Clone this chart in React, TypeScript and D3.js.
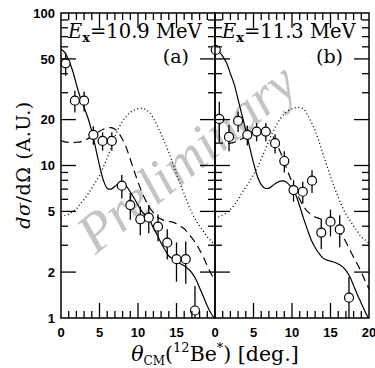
import React from "react";
import * as d3 from "d3";

// Angular grid (deg) on which the reaction-model curves are tabulated
const thetaGrid = [
  0, 0.5, 1, 1.5, 2, 2.5, 3, 3.5, 4, 4.5, 5, 5.5, 6, 6.5, 7, 7.5, 8, 8.5, 9, 9.5,
  10, 10.5, 11, 11.5, 12, 12.5, 13, 13.5, 14, 14.5, 15, 15.5, 16, 16.5, 17, 17.5,
  18, 18.5, 19, 19.5, 20,
];

// Panel (a): Ex = 10.9 MeV
const solidA = [
  58, 55, 49, 42, 34, 28, 24, 20.5, 16.8, 13, 10, 8.0, 7.1, 7.0, 7.3, 7.6, 7.6, 7.3, 6.7, 6.1,
  5.5, 5.0, 4.7, 4.4, 3.9, 3.5, 3.1, 2.8, 2.55, 2.45, 2.35, 2.27, 2.2, 2.1, 1.98, 1.8,
  1.58, 1.38, 1.2, 1.07, 0.98,
];
const dashedA = [
  14.5, 14.3, 14.2, 14.1, 14.2, 14.3, 14.6, 15.0, 15.5, 16.1, 16.8, 17.3, 17.6, 17.7, 17.3, 16.3,
  14.8, 13.0, 11.0, 9.2, 7.8, 6.7, 5.9, 5.3, 4.9, 4.6, 4.45, 4.35, 4.3, 4.25, 4.15, 4.0,
  3.85, 3.6, 3.35, 3.1, 2.8, 2.5, 2.2, 1.95, 1.75,
];
const dottedA = [
  4.6, 4.7, 4.8, 5.0, 5.2, 5.6, 6.0, 6.5, 7.1, 7.8, 8.6, 9.8, 11.2, 13.2, 15.5, 17.6, 19.5,
  21.0, 22.3, 23.1, 23.6, 23.7, 23.3, 22.2, 20.4, 18.2, 16.0, 14.0, 12.2, 10.4, 8.8, 7.5,
  6.5, 5.6, 4.9, 4.4, 4.0, 3.7, 3.4, 3.2, 3.0,
];
const angleA = [0.6, 1.8, 3.0, 4.2, 5.4, 6.6, 7.9, 9.0, 10.3, 11.4, 12.6, 13.8, 15.0, 16.2, 17.4];
const crossA = [46.8, 26.6, 26.6, 15.9, 14.5, 14.5, 7.37, 5.5, 4.44, 4.55, 3.97, 3.12, 2.43, 2.43, 1.12];
const errA = [8, 4.3, 4, 2.2, 2, 2, 1.3, 1.1, 0.95, 0.95, 0.8, 0.7, 0.7, 0.75, 0.5];

// Panel (b): Ex = 11.3 MeV
const solidB = [
  57, 56, 52, 47, 40, 34, 27, 21.5, 17, 13.2, 10.4, 8.5, 7.5, 7.1, 7.1, 7.4, 7.7, 7.9, 7.9, 7.6,
  7.1, 6.4, 5.4, 4.5, 3.8, 3.25, 2.9, 2.65, 2.48, 2.4, 2.36, 2.32, 2.26, 2.18, 2.05, 1.87,
  1.63, 1.42, 1.25, 1.1, 0.98,
];
const dashedB = [
  14, 14, 14, 14, 14, 14.2, 14.5, 15, 15.5, 16.2, 16.8, 17.2, 17.4, 17.4, 16.8, 15.6, 13.9,
  12.2, 10.5, 9.0, 7.8, 6.8, 6.0, 5.4, 5.0, 4.75, 4.6, 4.5, 4.4, 4.3, 4.2, 4.0, 3.8, 3.5,
  3.15, 2.8, 2.5, 2.25, 2.0, 1.75, 1.55,
];
const dottedB = [
  4.5, 4.6, 4.75, 4.9, 5.15, 5.5, 6.0, 6.6, 7.2, 7.9, 8.7, 9.7, 11.0, 12.6, 14.5, 16.5, 18.5,
  20.3, 21.8, 22.9, 23.5, 24.0, 24.0, 23.5, 21.5, 19.3, 17.0, 14.4, 12.0, 10.1, 8.5, 7.2,
  6.2, 5.4, 4.8, 4.4, 4.0, 3.7, 3.4, 3.25, 3.1,
];
const angleB = [0.1, 0.56, 1.82, 3.0, 4.2, 5.4, 6.6, 7.8, 9.0, 10.2, 11.4, 12.6, 13.8, 15.0, 16.2, 17.4];
const crossB = [57.2, 20.2, 15.4, 19.6, 15.9, 16.7, 16.7, 14.0, 10.7, 6.9, 6.73, 7.95, 3.63, 4.28, 3.81, 1.36];
const errB = [1.5, 6, 3, 3, 2.4, 2.3, 2.3, 2, 1.7, 1.1, 1.1, 1.35, 0.8, 0.85, 0.9, 0.5];

const yTickLabels = [1, 2, 5, 10, 20, 50, 100];
const xTickLabelsA = [0, 5, 10, 15];
const xTickLabelsB = [0, 5, 10, 15, 20];

const W = 375;
const H = 368;
const TOP = 13;
const BOTTOM = 318;
const SERIF = "'DejaVu Serif', serif";
const SANS = "'Liberation Sans', Arial, sans-serif";

type PanelProps = {
  id: string;
  x0: number;
  x1: number;
  solid: number[];
  dashed: number[];
  dotted: number[];
  angle: number[];
  cross: number[];
  err: number[];
  energy: string;
  tag: string;
  xLabels: number[];
};

const yScale = d3.scaleLog().domain([1, 100]).range([BOTTOM, TOP]);

function Panel(p: PanelProps) {
  const x = d3.scaleLinear().domain([0, 20]).range([p.x0, p.x1]);
  const line = d3
    .line<number>()
    .x((_, i) => x(thetaGrid[i]))
    .y((d) => yScale(d))
    .curve(d3.curveCatmullRom);
  const xMinor = d3.range(1, 20);
  const yMinor = yScale.ticks().filter((v) => v > 1 && v < 100);
  const isMajorY = (v: number) => yTickLabels.includes(v);
  const sw = 1.3;
  return (
    <g>
      <defs>
        <clipPath id={`clip-${p.id}`}>
          <rect x={p.x0} y={TOP} width={p.x1 - p.x0} height={BOTTOM - TOP} />
        </clipPath>
      </defs>
      <g clipPath={`url(#clip-${p.id})`} fill="none" stroke="#000">
        <path d={line(p.dotted) || ""} strokeWidth={1.3} strokeDasharray="1 2.6" />
        <path d={line(p.dashed) || ""} strokeWidth={1.2} strokeDasharray="8 5" />
        <path d={line(p.solid) || ""} strokeWidth={1.2} />
        {p.angle.map((a, i) => (
          <line
            key={i}
            x1={x(a)}
            x2={x(a)}
            y1={yScale(p.cross[i] + p.err[i])}
            y2={yScale(Math.max(p.cross[i] - p.err[i], 0.5))}
            strokeWidth={1.3}
          />
        ))}
      </g>
      {p.angle.map((a, i) => (
        <circle key={i} cx={x(a)} cy={yScale(p.cross[i])} r={4.5} fill="#fff" stroke="#000" strokeWidth={1.2} />
      ))}
      <g stroke="#000" strokeWidth={sw}>
        {xMinor.map((v) => {
          const len = v % 5 === 0 ? 15 : 7;
          return (
            <g key={v}>
              <line x1={x(v)} x2={x(v)} y1={BOTTOM} y2={BOTTOM - len} />
              <line x1={x(v)} x2={x(v)} y1={TOP} y2={TOP + len} />
            </g>
          );
        })}
        {yMinor.map((v) => {
          const len = isMajorY(v) ? 15 : 7;
          return (
            <g key={v}>
              <line x1={p.x0} x2={p.x0 + len} y1={yScale(v)} y2={yScale(v)} />
              <line x1={p.x1} x2={p.x1 - len} y1={yScale(v)} y2={yScale(v)} />
            </g>
          );
        })}
        <rect x={p.x0} y={TOP} width={p.x1 - p.x0} height={BOTTOM - TOP} fill="none" strokeWidth={1.5} />
      </g>
      {p.xLabels.map((v) => (
        <text
          key={v}
          x={x(v)}
          y={337}
          textAnchor="middle"
          fontFamily={SANS}
          fontWeight="bold"
          fontSize={13}
        >
          {v}
        </text>
      ))}
      <text x={p.x0 + 7} y={38} fontFamily={SERIF} fontSize={19.5}>
        <tspan fontStyle="italic">E</tspan>
        <tspan fontSize={13} fontWeight="bold" dy={4}>
          x
        </tspan>
        <tspan dy={-4}>{`=${p.energy} MeV`}</tspan>
      </text>
      <text x={p.x1 - 26} y={63} textAnchor="end" fontFamily={SERIF} fontSize={19}>
        {p.tag}
      </text>
    </g>
  );
}

export default function App() {
  return (
    <svg
      width={W}
      height={H}
      viewBox={`0 0 ${W} ${H}`}
      style={{ position: "fixed", left: 0, top: 0, background: "#fff" }}
    >
      <rect width={W} height={H} fill="#fff" />
      <text
        transform="translate(198,172) rotate(-39)"
        textAnchor="middle"
        fontFamily="'Liberation Serif', serif"
        fontStyle="italic"
        fontSize={55}
        fill="#c4c4c4"
      >
        Preliminary
      </text>
      <Panel
        id="a"
        x0={61}
        x1={215}
        solid={solidA}
        dashed={dashedA}
        dotted={dottedA}
        angle={angleA}
        cross={crossA}
        err={errA}
        energy="10.9"
        tag="(a)"
        xLabels={xTickLabelsA}
      />
      <Panel
        id="b"
        x0={215}
        x1={369}
        solid={solidB}
        dashed={dashedB}
        dotted={dottedB}
        angle={angleB}
        cross={crossB}
        err={errB}
        energy="11.3"
        tag="(b)"
        xLabels={xTickLabelsB}
      />
      {yTickLabels.map((v) => (
        <text
          key={v}
          x={55}
          y={yScale(v)}
          dy="0.36em"
          textAnchor="end"
          fontFamily={SANS}
          fontWeight="bold"
          fontSize={13}
        >
          {v}
        </text>
      ))}
      <text
        transform="translate(30,165) rotate(-90)"
        textAnchor="middle"
        fontFamily={SERIF}
        fontSize={19}
        letterSpacing={0.6}
      >
        <tspan fontStyle="italic">dσ</tspan>
        <tspan>/dΩ (A.U.)</tspan>
      </text>
      <text x={215} y={361} textAnchor="middle" fontFamily={SERIF} fontSize={20.5}>
        <tspan fontStyle="italic">θ</tspan>
        <tspan fontSize={12} dy={4}>
          CM
        </tspan>
        <tspan dy={-4}>(</tspan>
        <tspan fontSize={13} dy={-9}>
          12
        </tspan>
        <tspan dy={9}>Be</tspan>
        <tspan fontSize={13} dy={-9}>
          *
        </tspan>
        <tspan dy={9}>) [deg.]</tspan>
      </text>
    </svg>
  );
}
